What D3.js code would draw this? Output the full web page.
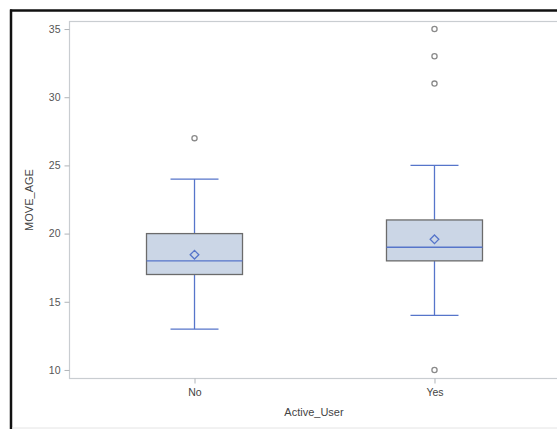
<!DOCTYPE html>
<html>
<head>
<meta charset="utf-8">
<script src="https://cdn.jsdelivr.net/npm/d3@7"></script>
<style>
  html, body { margin: 0; padding: 0; background: #fff; }
  svg { display: block; font-family: "Liberation Sans", Arial, sans-serif; }
</style>
</head>
<body>
<svg id="chart" width="557" height="429"></svg>
<script>
// Box plot of MOVE_AGE by Active_User
const categories = ["No", "Yes"];
const q1Values      = [17, 18];
const medianValues  = [18, 19];
const q3Values      = [20, 21];
const meanValues    = [18.45, 19.58];
const whiskerLow    = [13, 14];
const whiskerHigh   = [24, 25];
const outlierValues = [[27], [35, 33, 31, 10]];
const yTicks = [10, 15, 20, 25, 30, 35];
const xTitle = "Active_User";
const yTitle = "MOVE_AGE";

const svg = d3.select("#chart");

const plot = { left: 69, top: 21, right: 560, bottom: 378 };

const x = d3.scalePoint()
  .domain(categories)
  .range([plot.left, plot.right])
  .padding(0.523);

const y = d3.scaleLinear()
  .domain([9.41, 35.59])
  .range([plot.bottom, plot.top]);

const boxHalf = 48;
const capHalf = 24;
const blue = "#5675CA";
const gray = "#8a8a8a";

// outer frame: heavy left and top edges, faint bottom edge
svg.append("line")
  .attr("x1", 11).attr("x2", 11).attr("y1", 9.5).attr("y2", 429)
  .attr("stroke", "#111").attr("stroke-width", 2.5);
svg.append("line")
  .attr("x1", 10).attr("x2", 557).attr("y1", 10.5).attr("y2", 10.5)
  .attr("stroke", "#111").attr("stroke-width", 2.5);
svg.append("line")
  .attr("x1", 12).attr("x2", 557).attr("y1", 428).attr("y2", 428)
  .attr("stroke", "#e4e4e4").attr("stroke-width", 1);

// plot area frame
svg.append("rect")
  .attr("x", plot.left + 0.5).attr("y", plot.top + 0.5)
  .attr("width", plot.right - plot.left).attr("height", plot.bottom - plot.top)
  .attr("fill", "none")
  .attr("stroke", "#c9cdd1").attr("stroke-width", 1.2);

// y axis
const yAxis = svg.append("g")
  .attr("transform", `translate(${plot.left + 0.5},0)`)
  .call(d3.axisLeft(y).tickValues(yTicks).tickSize(5).tickPadding(4));
yAxis.select(".domain").remove();
yAxis.selectAll(".tick line").attr("stroke", "#b0b4b8");
yAxis.selectAll(".tick text").attr("fill", "#555").style("font-size", "10.5px");

// x axis
const xAxis = svg.append("g")
  .attr("transform", `translate(0,${plot.bottom + 0.5})`)
  .call(d3.axisBottom(x).tickSize(5).tickPadding(5));
xAxis.select(".domain").remove();
xAxis.selectAll(".tick line").attr("stroke", "#b0b4b8");
xAxis.selectAll(".tick text").attr("fill", "#444").style("font-size", "10.5px");

// axis titles
svg.append("text")
  .attr("x", (plot.left + 557) / 2 + 1).attr("y", 416)
  .attr("text-anchor", "middle")
  .attr("fill", "#444").style("font-size", "11px")
  .text(xTitle);

svg.append("text")
  .attr("transform", `translate(33,200) rotate(-90)`)
  .attr("text-anchor", "middle")
  .attr("fill", "#444").style("font-size", "11px")
  .text(yTitle);

// boxes
const groups = svg.append("g").selectAll("g")
  .data(categories.map((c, i) => ({
    c, q1: q1Values[i], med: medianValues[i], q3: q3Values[i], mean: meanValues[i],
    lo: whiskerLow[i], hi: whiskerHigh[i], out: outlierValues[i]
  })))
  .join("g");

// whiskers
groups.append("line")
  .attr("x1", d => x(d.c)).attr("x2", d => x(d.c))
  .attr("y1", d => y(d.hi)).attr("y2", d => y(d.q3))
  .attr("stroke", blue).attr("stroke-width", 1.3);
groups.append("line")
  .attr("x1", d => x(d.c)).attr("x2", d => x(d.c))
  .attr("y1", d => y(d.q1)).attr("y2", d => y(d.lo))
  .attr("stroke", blue).attr("stroke-width", 1.3);
groups.append("line")
  .attr("x1", d => x(d.c) - capHalf).attr("x2", d => x(d.c) + capHalf)
  .attr("y1", d => y(d.hi)).attr("y2", d => y(d.hi))
  .attr("stroke", blue).attr("stroke-width", 1.3);
groups.append("line")
  .attr("x1", d => x(d.c) - capHalf).attr("x2", d => x(d.c) + capHalf)
  .attr("y1", d => y(d.lo)).attr("y2", d => y(d.lo))
  .attr("stroke", blue).attr("stroke-width", 1.3);

// box body
groups.append("rect")
  .attr("x", d => x(d.c) - boxHalf)
  .attr("y", d => y(d.q3))
  .attr("width", boxHalf * 2)
  .attr("height", d => y(d.q1) - y(d.q3))
  .attr("fill", "#cbd6e6")
  .attr("stroke", "#6b6b6b").attr("stroke-width", 1.3);

// median
groups.append("line")
  .attr("x1", d => x(d.c) - boxHalf).attr("x2", d => x(d.c) + boxHalf)
  .attr("y1", d => y(d.med)).attr("y2", d => y(d.med))
  .attr("stroke", blue).attr("stroke-width", 1.4);

// mean marker (diamond)
groups.append("path")
  .attr("d", d3.symbol(d3.symbolDiamond2, 48))
  .attr("transform", d => `translate(${x(d.c)},${y(d.mean)})`)
  .attr("fill", "none")
  .attr("stroke", blue).attr("stroke-width", 1.3);

// outliers
groups.selectAll("circle")
  .data(d => d.out.map(v => ({ c: d.c, v })))
  .join("circle")
  .attr("cx", d => x(d.c)).attr("cy", d => y(d.v))
  .attr("r", 2.6)
  .attr("fill", "none")
  .attr("stroke", gray).attr("stroke-width", 1.3);
</script>
</body>
</html>
